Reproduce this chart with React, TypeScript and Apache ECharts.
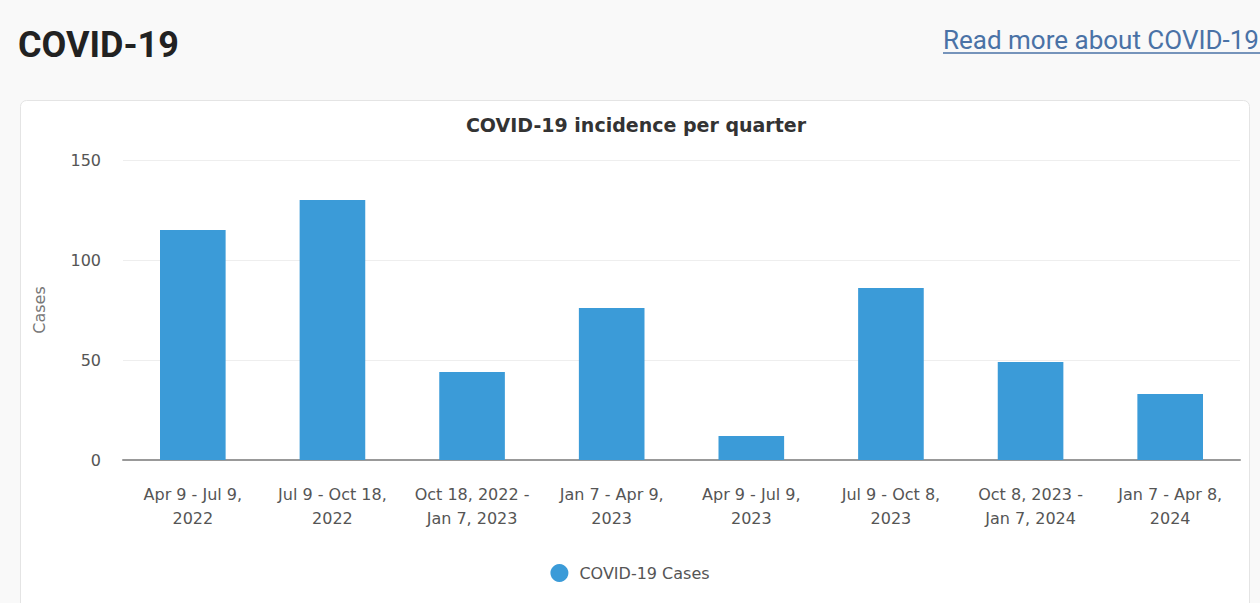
import React, { useEffect, useRef } from "react";
import * as echarts from "echarts";

const categories = [
  "Apr 9 - Jul 9,\n2022",
  "Jul 9 - Oct 18,\n2022",
  "Oct 18, 2022 -\nJan 7, 2023",
  "Jan 7 - Apr 9,\n2023",
  "Apr 9 - Jul 9,\n2023",
  "Jul 9 - Oct 8,\n2023",
  "Oct 8, 2023 -\nJan 7, 2024",
  "Jan 7 - Apr 8,\n2024",
];
const cases = [115, 130, 44, 76, 12, 86, 49, 33];
const yTicks = [0, 50, 100, 150];
const seriesName = "COVID-19 Cases";
const chartTitle = "COVID-19 incidence per quarter";
const pageHeading = "COVID-19";
const linkText = "Read more about COVID-19";

export default function App() {
  const ref = useRef<HTMLDivElement>(null);
  useEffect(() => {
    document.body.style.margin = "0";
    const chart = echarts.init(ref.current!, null, { renderer: "svg" });
    const font = "'DejaVu Sans', 'Liberation Sans', Arial, sans-serif";
    chart.setOption({
      animation: false,
      backgroundColor: "#f9f9f9",
      graphic: [
        {
          type: "rect",
          z: -10,
          shape: { x: 20.5, y: 100.5, width: 1229, height: 520, r: 6 },
          style: { fill: "#ffffff", stroke: "#e4e4e4", lineWidth: 1 },
        },
        {
          type: "text",
          x: 18,
          y: 45,
          style: {
            text: pageHeading,
            font: "bold 36px Roboto, sans-serif",
            fill: "#222222",
            verticalAlign: "middle",
          },
        },
        {
          type: "text",
          x: 943,
          y: 40,
          style: {
            text: linkText,
            font: "26px Roboto, sans-serif",
            fill: "#4a72a6",
            verticalAlign: "middle",
          },
        },
        {
          type: "line",
          shape: { x1: 943, y1: 53, x2: 1260, y2: 53 },
          style: { stroke: "#4a72a6", lineWidth: 1.5 },
        },
      ],
      title: {
        text: chartTitle,
        left: 631,
        textAlign: "center",
        top: 110,
        textStyle: { fontFamily: font, fontSize: 19, fontWeight: "bold", color: "#333333" },
      },
      legend: {
        data: [seriesName],
        left: "center",
        top: 559,
        icon: "circle",
        itemWidth: 18,
        itemHeight: 18,
        itemGap: 8,
        textStyle: { fontFamily: font, fontSize: 16, color: "#555555", padding: [0, 0, 0, 6] },
      },
      grid: { left: 123, right: 20, top: 160, bottom: 143 },
      xAxis: {
        type: "category",
        data: categories,
        axisTick: { show: false },
        axisLine: { lineStyle: { color: "#999999", width: 2 } },
        axisLabel: {
          fontFamily: font,
          fontSize: 16,
          color: "#555555",
          lineHeight: 24,
          margin: 22,
          interval: 0,
          align: "center",
        },
      },
      yAxis: {
        type: "value",
        min: yTicks[0],
        max: yTicks[yTicks.length - 1],
        interval: yTicks[1] - yTicks[0],
        name: "Cases",
        nameLocation: "middle",
        nameGap: 76,
        nameTextStyle: { fontFamily: font, fontSize: 16, color: "#777777" },
        axisLabel: { fontFamily: font, fontSize: 16, color: "#555555", margin: 22 },
        splitLine: { lineStyle: { color: "#eeeeee", width: 1 } },
      },
      series: [
        {
          name: seriesName,
          type: "bar",
          data: cases,
          barWidth: "47%",
          itemStyle: { color: "#3b9bd8" },
        },
      ],
    });
    return () => chart.dispose();
  }, []);
  return <div ref={ref} style={{ width: 1260, height: 603 }} />;
}
